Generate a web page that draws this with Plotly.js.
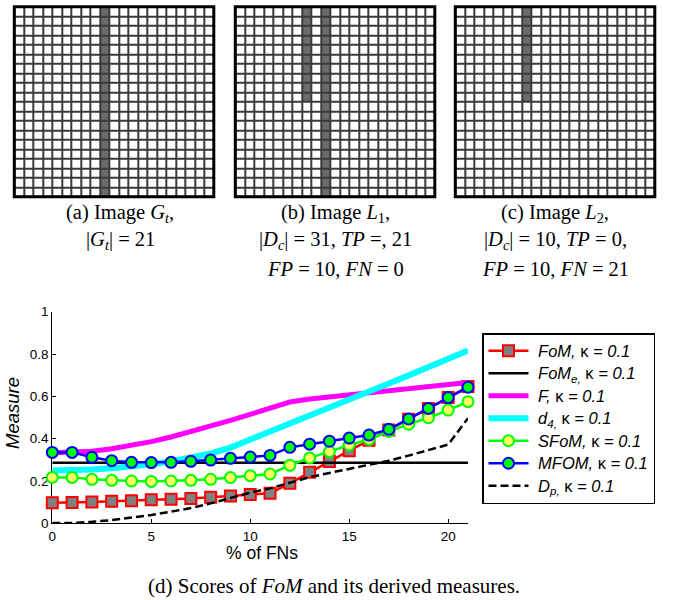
<!DOCTYPE html>
<html><head><meta charset="utf-8">
<script src="https://cdn.plot.ly/plotly-3.0.1.min.js"></script>
<style>html,body{margin:0;padding:0;background:#fff}#chart{width:678px;height:600px}</style>
</head><body><div id="chart"></div>
<script>
// ---------- data ----------
const fnPercent = [0,1,2,3,4,5,6,7,8,9,10,11,12,13,14,15,16,17,18,19,20,21];
const fomScore  = [0.097,0.098,0.101,0.104,0.107,0.111,0.114,0.117,0.123,0.129,0.136,0.142,0.189,0.241,0.292,0.343,0.392,0.441,0.492,0.543,0.594,0.646];
const fomEScore = [0.286,0.286,0.286,0.286,0.286,0.286,0.286,0.286,0.286,0.286,0.286,0.286,0.286,0.286,0.286,0.286,0.286,0.286,0.286,0.286,0.286,0.286];
const fScore    = [0.334,0.335,0.341,0.352,0.367,0.386,0.408,0.432,0.458,0.486,0.515,0.546,0.573,0.587,0.597,0.607,0.616,0.626,0.635,0.645,0.654,0.665];
const d4Score   = [0.249,0.250,0.254,0.260,0.268,0.279,0.292,0.309,0.330,0.358,0.395,0.433,0.471,0.509,0.547,0.585,0.623,0.661,0.699,0.738,0.777,0.817];
const sfomScore = [0.217,0.217,0.208,0.203,0.200,0.198,0.200,0.203,0.208,0.216,0.225,0.233,0.274,0.309,0.339,0.370,0.396,0.434,0.468,0.499,0.535,0.575];
const mfomScore = [0.335,0.335,0.312,0.296,0.288,0.287,0.288,0.293,0.299,0.307,0.313,0.321,0.359,0.374,0.388,0.403,0.417,0.444,0.493,0.543,0.594,0.643];
const dpScore   = [0.002,0.002,0.007,0.015,0.027,0.039,0.055,0.072,0.094,0.120,0.145,0.165,0.193,0.218,0.238,0.257,0.276,0.296,0.320,0.345,0.372,0.497];

const seriesLabels = [
  "<i>FoM,</i> κ <i>= 0.1</i>",
  "<i>FoM<sub>e,</sub></i> κ <i>= 0.1</i>",
  "<i>F,</i> κ <i>= 0.1</i>",
  "<i>d<sub>4,</sub></i> κ <i>= 0.1</i>",
  "<i>SFoM,</i> κ <i>= 0.1</i>",
  "<i>MFOM,</i> κ <i>= 0.1</i>",
  "<i>D<sub>p,</sub></i> κ <i>= 0.1</i>"
];
const xTickVals = [0,5,10,15,20];
const yTickVals = [0,0.2,0.4,0.6,0.8,1];
const yTickText = ["0","0.2","0.4","0.6","0.8","1"];

// grid images: [column, firstRow, lastRow] of dark pixels
const gridColumns = 21, gridRows = 20;
const gtPixels = [[9,0,19]];
const l1Pixels = [[7,0,9],[9,0,19]];
const l2Pixels = [[7,0,9]];

const captionA = ["(a) Image <i>G<sub>t</sub></i>,", "|<i>G<sub>t</sub></i>| = 21"];
const captionB = ["(b) Image <i>L</i><sub>1</sub>,", "|<i>D<sub>c</sub></i>| = 31, <i>TP</i> =, 21", "<i>FP</i> = 10, <i>FN</i> = 0"];
const captionC = ["(c) Image <i>L</i><sub>2</sub>,", "|<i>D<sub>c</sub></i>| = 10, <i>TP</i> = 0,", "<i>FP</i> = 10, <i>FN</i> = 21"];
const captionD = "(d) Scores of <i>FoM</i> and its derived measures.";

// ---------- layout helpers ----------
const W = 678, H = 600;
const px = p => p / W;
const py = p => 1 - p / H;
const sans = "Liberation Sans, Arial, Helvetica, sans-serif";
const serif = "Liberation Serif, Times New Roman, serif";

function buildGrid(pixels) {
  const z = [];
  for (let r = 0; r < gridRows; r++) { z.push(new Array(gridColumns).fill(0)); }
  pixels.forEach(([c, r0, r1]) => { for (let r = r0; r <= r1; r++) z[r][c] = 1; });
  return z;
}

const panelLeft = [14.3, 235.3, 455.3];
const panelTop = 6.7, cell = 9.5;
const panelW = gridColumns * cell, panelH = gridRows * cell;
const panelPixels = [gtPixels, l1Pixels, l2Pixels];

const traces = [];
const layout = {
  width: W, height: H,
  margin: {l:0, r:0, t:0, b:0},
  paper_bgcolor: "#ffffff",
  plot_bgcolor: "rgba(0,0,0,0)",
  showlegend: true,
  shapes: [], annotations: [],
  font: {family: sans, color: "#000"}
};

panelPixels.forEach((pix, i) => {
  const n = i + 2;
  traces.push({
    type: "heatmap", z: buildGrid(pix), xaxis: "x" + n, yaxis: "y" + n,
    colorscale: [[0, "#ffffff"], [1, "#6b6b6b"]], zmin: 0, zmax: 1,
    showscale: false, xgap: 2, ygap: 2, hoverinfo: "skip", showlegend: false
  });
  const x0 = panelLeft[i], x1 = x0 + panelW, y0 = panelTop, y1 = panelTop + panelH;
  layout["xaxis" + n] = {domain: [px(x0), px(x1)], range: [-0.5, gridColumns - 0.5], anchor: "y" + n,
    showgrid: false, zeroline: false, showticklabels: false, ticks: "", showline: false, fixedrange: true};
  layout["yaxis" + n] = {domain: [py(y1), py(y0)], range: [gridRows - 0.5, -0.5], anchor: "x" + n,
    showgrid: false, zeroline: false, showticklabels: false, ticks: "", showline: false, fixedrange: true};
  layout.shapes.push({type: "rect", xref: "paper", yref: "paper", x0: px(x0), x1: px(x1), y0: py(y1), y1: py(y0),
    fillcolor: "#3a3a3a", line: {width: 0}, layer: "below"});
  layout.shapes.push({type: "rect", xref: "paper", yref: "paper", x0: px(x0), x1: px(x1), y0: py(y1), y1: py(y0),
    fillcolor: "rgba(0,0,0,0)", line: {width: 3, color: "#000"}, layer: "above"});
});

// captions
const capCenters = [120, 335, 555];
const capLines = [213, 241, 269];
[captionA, captionB, captionC].forEach((cap, i) => {
  cap.forEach((t, j) => {
    layout.annotations.push({text: t, xref: "paper", yref: "paper", x: px(capCenters[i]), y: py(capLines[j]),
      xanchor: "center", yanchor: "middle", showarrow: false, font: {family: serif, size: 20.5, color: "#000"}});
  });
});
layout.annotations.push({text: captionD, xref: "paper", yref: "paper", x: px(334), y: py(586),
  xanchor: "center", yanchor: "middle", showarrow: false, font: {family: serif, size: 21, color: "#000"}});
layout.annotations.push({text: "% of FNs", xref: "paper", yref: "paper", x: px(262), y: py(553),
  xanchor: "center", yanchor: "middle", showarrow: false, font: {family: sans, size: 17.5, color: "#000"}});
layout.annotations.push({text: "<i>Measure</i>", xref: "paper", yref: "paper", x: px(12), y: py(413),
  xanchor: "center", yanchor: "middle", textangle: -90, showarrow: false, font: {family: sans, size: 18.5, color: "#000"}});

// main chart
layout.xaxis = {domain: [px(52.3), px(468)], range: [0, 21], anchor: "y", tickvals: xTickVals,
  ticks: "inside", ticklen: 4, tickwidth: 1, tickcolor: "#000", showline: true, linecolor: "#000", linewidth: 1,
  showgrid: false, zeroline: false, layer: "below traces", tickfont: {family: sans, size: 13.5, color: "#000"}, fixedrange: true};
layout.yaxis = {domain: [py(523.3), py(311.7)], range: [0, 1], anchor: "x", tickvals: yTickVals, ticktext: yTickText,
  ticks: "inside", ticklen: 4, tickwidth: 1, tickcolor: "#000", showline: true, linecolor: "#000", linewidth: 1,
  showgrid: false, zeroline: false, layer: "below traces", tickfont: {family: sans, size: 13.5, color: "#000"}, fixedrange: true};
layout.legend = {x: px(482), y: py(333), xanchor: "left", yanchor: "top", bgcolor: "#ffffff",
  bordercolor: "#000", borderwidth: 1.5, font: {family: sans, size: 15, color: "#000"}, tracegroupgap: 0,
  itemwidth: 40, traceorder: "normal"};

const legendName = t => '<span style="font-size:16.5px">&nbsp;' + t + '</span>';

const base = {type: "scatter", x: fnPercent, xaxis: "x", yaxis: "y", cliponaxis: false, hoverinfo: "skip"};
traces.push(Object.assign({}, base, {y: fomScore, name: legendName(seriesLabels[0]), mode: "lines+markers",
  line: {color: "#ff0000", width: 2.5}, marker: {symbol: "square", size: 11, color: "#808080", line: {color: "#ff0000", width: 2}}}));
traces.push(Object.assign({}, base, {y: fomEScore, name: legendName(seriesLabels[1]), mode: "lines",
  line: {color: "#000000", width: 2.5}}));
traces.push(Object.assign({}, base, {y: fScore, name: legendName(seriesLabels[2]), mode: "lines",
  line: {color: "#ff00ff", width: 5}}));
traces.push(Object.assign({}, base, {y: d4Score, name: legendName(seriesLabels[3]), mode: "lines",
  line: {color: "#00ffff", width: 6}}));
traces.push(Object.assign({}, base, {y: sfomScore, name: legendName(seriesLabels[4]), mode: "lines+markers",
  line: {color: "#00ff00", width: 2.5}, marker: {symbol: "circle", size: 11, color: "#ffff66", line: {color: "#00ff00", width: 2}}}));
traces.push(Object.assign({}, base, {y: mfomScore, name: legendName(seriesLabels[5]), mode: "lines+markers",
  line: {color: "#0000ff", width: 2.5}, marker: {symbol: "circle", size: 11, color: "#00ff00", line: {color: "#0000ff", width: 2}}}));
traces.push(Object.assign({}, base, {y: dpScore, name: legendName(seriesLabels[6]), mode: "lines",
  line: {color: "#000000", width: 2.5, dash: "8px,4px"}}));

Plotly.newPlot("chart", traces, layout, {displayModeBar: false, staticPlot: true});
</script>
</body></html>
